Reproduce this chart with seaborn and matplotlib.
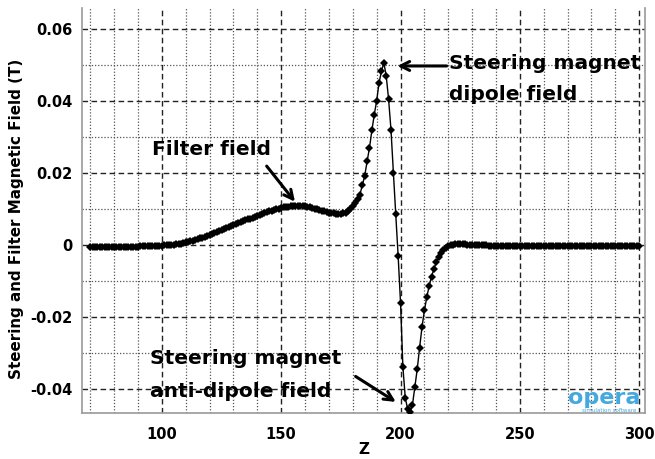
import numpy as np
import pandas as pd
import matplotlib
matplotlib.use("Agg")
import matplotlib.pyplot as plt
from matplotlib.ticker import MultipleLocator, FuncFormatter
import seaborn as sns

# ---- data ----
z_pos = [
    70, 71, 72, 73, 74, 75, 76, 77, 78, 79,
    80, 81, 82, 83, 84, 85, 86, 87, 88, 89,
    90, 91, 92, 93, 94, 95, 96, 97, 98, 99,
    100, 101, 102, 103, 104, 105, 106, 107, 108, 109,
    110, 111, 112, 113, 114, 115, 116, 117, 118, 119,
    120, 121, 122, 123, 124, 125, 126, 127, 128, 129,
    130, 131, 132, 133, 134, 135, 136, 137, 138, 139,
    140, 141, 142, 143, 144, 145, 146, 147, 148, 149,
    150, 151, 152, 153, 154, 155, 156, 157, 158, 159,
    160, 161, 162, 163, 164, 165, 166, 167, 168, 169,
    170, 171, 172, 173, 174, 175, 176, 177, 178, 179,
    180, 181, 182, 183, 184, 185, 186, 187, 188, 189,
    190, 191, 192, 193, 194, 195, 196, 197, 198, 199,
    200, 201, 202, 203, 204, 205, 206, 207, 208, 209,
    210, 211, 212, 213, 214, 215, 216, 217, 218, 219,
    220, 221, 222, 223, 224, 225, 226, 227, 228, 229,
    230, 231, 232, 233, 234, 235, 236, 237, 238, 239,
    240, 241, 242, 243, 244, 245, 246, 247, 248, 249,
    250, 251, 252, 253, 254, 255, 256, 257, 258, 259,
    260, 261, 262, 263, 264, 265, 266, 267, 268, 269,
    270, 271, 272, 273, 274, 275, 276, 277, 278, 279,
    280, 281, 282, 283, 284, 285, 286, 287, 288, 289,
    290, 291, 292, 293, 294, 295, 296, 297, 298, 299,
    300,
]
field_T = [
    -0.0006, -0.0006, -0.0006, -0.0006, -0.0006, -0.0006, -0.0006, -0.0006, -0.0006, -0.0006,
    -0.0006, -0.0006, -0.0006, -0.0005, -0.0005, -0.0005, -0.0005, -0.0005, -0.0005, -0.0005,
    -0.0005, -0.0004, -0.0004, -0.0004, -0.0004, -0.0004, -0.0003, -0.0003, -0.0003, -0.0002,
    -0.0002, -0.0001, -0.0001, 0.0000, 0.0001, 0.0001, 0.0002, 0.0003, 0.0004, 0.0005,
    0.0007, 0.0008, 0.0010, 0.0012, 0.0014, 0.0016, 0.0018, 0.0020, 0.0023, 0.0025,
    0.0028, 0.0030, 0.0033, 0.0035, 0.0038, 0.0041, 0.0044, 0.0047, 0.0049, 0.0052,
    0.0055, 0.0058, 0.0060, 0.0063, 0.0066, 0.0068, 0.0071, 0.0073, 0.0076, 0.0078,
    0.0081, 0.0083, 0.0086, 0.0088, 0.0091, 0.0093, 0.0095, 0.0097, 0.0099, 0.0101,
    0.0102, 0.0104, 0.0105, 0.0106, 0.0107, 0.0108, 0.0109, 0.0109, 0.0109, 0.0108,
    0.0107, 0.0106, 0.0104, 0.0103, 0.0101, 0.0099, 0.0097, 0.0095, 0.0093, 0.0091,
    0.0090, 0.0089, 0.0088, 0.0087, 0.0087, 0.0087, 0.0088, 0.0090, 0.0094, 0.0100,
    0.0108, 0.0117, 0.0127, 0.0140, 0.0166, 0.0192, 0.0232, 0.0270, 0.0318, 0.0362,
    0.0400, 0.0450, 0.0482, 0.0506, 0.0470, 0.0405, 0.0320, 0.0200, 0.0085, -0.0030,
    -0.0160, -0.0340, -0.0425, -0.0456, -0.0463, -0.0444, -0.0395, -0.0345, -0.0285, -0.0228,
    -0.0182, -0.0145, -0.0114, -0.0088, -0.0066, -0.0048, -0.0034, -0.0023, -0.0015, -0.0009,
    -0.0004, -0.0001, 0.0001, 0.0002, 0.0002, 0.0002, 0.0002, 0.0002, 0.0001, 0.0001,
    0.0001, 0.0000, 0.0000, 0.0000, -0.0001, -0.0001, -0.0001, -0.0002, -0.0002, -0.0002,
    -0.0002, -0.0003, -0.0003, -0.0003, -0.0003, -0.0003, -0.0003, -0.0003, -0.0003, -0.0003,
    -0.0003, -0.0003, -0.0003, -0.0003, -0.0003, -0.0003, -0.0003, -0.0003, -0.0003, -0.0003,
    -0.0003, -0.0003, -0.0003, -0.0003, -0.0003, -0.0003, -0.0003, -0.0003, -0.0003, -0.0003,
    -0.0003, -0.0004, -0.0004, -0.0004, -0.0004, -0.0004, -0.0004, -0.0004, -0.0004, -0.0004,
    -0.0004, -0.0004, -0.0004, -0.0004, -0.0004, -0.0004, -0.0004, -0.0004, -0.0004, -0.0004,
    -0.0004, -0.0004, -0.0004, -0.0004, -0.0004, -0.0004, -0.0004, -0.0004, -0.0004, -0.0004,
    -0.0004,
]
x_major_ticks = [100, 150, 200, 250, 300]
y_major_ticks = [-0.04, -0.02, 0.0, 0.02, 0.04, 0.06]
x_label = "Z"
y_label = "Steering and Filter Magnetic Field (T)"
label_filter = "Filter field"
label_dipole = ["Steering magnet", "dipole field"]
label_anti = ["Steering magnet", "anti-dipole field"]

df = pd.DataFrame({"z": z_pos, "B": field_T})

sns.set_style("white")
plt.rcParams["font.family"] = ["DejaVu Sans"]
plt.rcParams["axes.unicode_minus"] = False
plt.rcParams["text.color"] = "black"
plt.rcParams["axes.labelcolor"] = "black"
plt.rcParams["xtick.labelcolor"] = "black"
plt.rcParams["ytick.labelcolor"] = "black"

fig = plt.figure(figsize=(6.55, 4.59), dpi=100)
ax = fig.add_axes([0.125, 0.1002, 0.86, 0.8824])

sns.lineplot(data=df, x="z", y="B", ax=ax, color="black", linewidth=1.0,
             marker="D", markersize=3.8, markeredgewidth=0, sort=True, zorder=5)

ax.set_xlim(66.5, 302.5)
ax.set_ylim(-0.04667, 0.0658)
ax.set_xticks(x_major_ticks)
ax.set_yticks(y_major_ticks)
ax.xaxis.set_minor_locator(MultipleLocator(10))
ax.yaxis.set_minor_locator(MultipleLocator(0.01))
ax.yaxis.set_major_formatter(FuncFormatter(lambda v, p: "0" if abs(v) < 1e-9 else f"{v:g}"))

ax.grid(which="major", linestyle=(0, (4, 2.5)), color="#222222", linewidth=1.0)
ax.grid(which="minor", linestyle=(0, (1, 1.5)), color="#555555", linewidth=0.9)
ax.set_axisbelow(True)

for s in ["left", "bottom", "right"]:
    ax.spines[s].set_color("#999999")
    ax.spines[s].set_linewidth(1.2)
ax.spines["top"].set_visible(False)

ax.tick_params(axis="x", which="both", direction="out", length=4, color="#888888",
               labelsize=10.5, pad=6)
ax.tick_params(axis="y", which="major", direction="out", length=5, color="#888888",
               labelsize=10.5, pad=2)
ax.tick_params(axis="y", which="minor", length=0)
for lab in ax.get_xticklabels() + ax.get_yticklabels():
    lab.set_fontweight("bold")
    lab.set_color("black")

ax.set_xlabel(x_label, fontsize=11, fontweight="bold", labelpad=0, color="black")
ax.set_ylabel(y_label, fontsize=10.9, fontweight="bold", color="black")
ax.yaxis.set_label_coords(-0.103, 0.479)

arrow = dict(arrowstyle="->", color="black", lw=2.2, mutation_scale=16)
txt = dict(fontsize=14.5, fontweight="bold", va="center", ha="left", color="black", zorder=6)

ax.text(95.8, 0.0264, label_filter, **txt)
ax.annotate("", xy=(156.5, 0.0114), xytext=(143.2, 0.0225), arrowprops=arrow, zorder=6)

ax.text(220.5, 0.0503, label_dipole[0], **txt)
ax.text(220.5, 0.0417, label_dipole[1], **txt)
ax.annotate("", xy=(197.5, 0.0497), xytext=(220.5, 0.0497), arrowprops=arrow, zorder=6)

ax.text(95.0, -0.0314, label_anti[0], **txt)
ax.text(95.0, -0.0408, label_anti[1], **txt)
ax.annotate("", xy=(199.0, -0.0440), xytext=(180.2, -0.0361), arrowprops=arrow, zorder=6)

# logo
ax.text(0.991, 0.012, "opera", transform=ax.transAxes, fontsize=16, fontweight="bold",
        color="#45a8de", ha="right", va="bottom", zorder=6)
ax.text(0.985, 0.001, "simulation software", transform=ax.transAxes, fontsize=4,
        color="#45a8de", ha="right", va="bottom", zorder=6)

fig.savefig("out.png", dpi=100)
